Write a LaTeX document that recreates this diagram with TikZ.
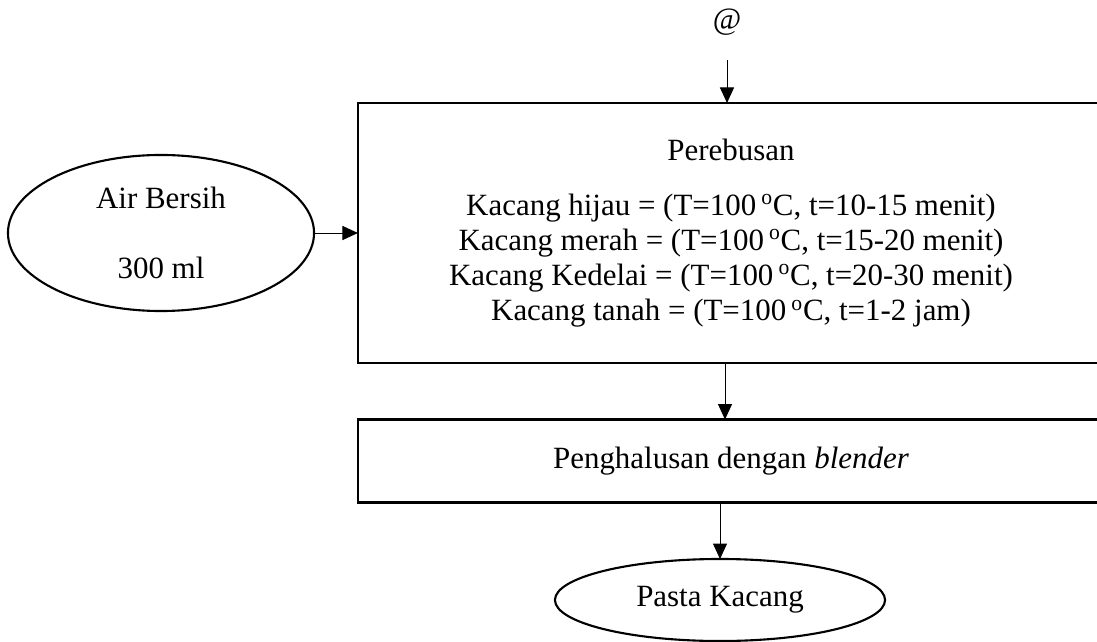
\documentclass[tikz,border=0pt]{standalone}
\usepackage{fontspec}
\setmainfont{Liberation Serif}
\usetikzlibrary{shapes.geometric,arrows.meta}
\begin{document}
\begin{tikzpicture}[
        x=0.025cm, y=-0.025cm,
        font=\fontsize{22}{25}\selectfont,
        process/.style={rectangle, draw=black, line width=1.5pt, minimum width=18.65cm, align=center, inner sep=0pt, outer sep=0pt},
        terminal/.style={ellipse, draw=black, line width=1.5pt, align=center, inner sep=0pt, outer sep=0pt},
        arrow/.style={line width=0.7pt, -{Triangle[length=11pt,width=10pt]}}
    ]
        \useasboundingbox (0,0) rectangle (1097,642);
        \node (at) at (727,22) {@};
        \coordinate (start) at (727,60);
        \node[process, minimum height=6.5cm] (perebusan) at (731,233) {Perebusan\\[0.5cm]
            Kacang hijau = (T=100\,\textsuperscript{o}C, t=10-15 menit)\\
            Kacang merah = (T=100\,\textsuperscript{o}C, t=15-20 menit)\\
            Kacang Kedelai = (T=100\,\textsuperscript{o}C, t=20-30 menit)\\
            Kacang tanah = (T=100\,\textsuperscript{o}C, t=1-2 jam)};
        \node[terminal, minimum width=7.65cm, minimum height=3.9cm] (air) at (161,233) {Air Bersih\\[0.875cm] 300 ml};
        \node[process, minimum height=2.075cm] (halus) at (731,461) {Penghalusan dengan \textit{blender}};
        \node[terminal, minimum width=8.25cm, minimum height=2.05cm] (pasta) at (720,600) {Pasta Kacang};
        \coordinate (split) at (725,363);

        \draw[arrow] (start) -- (start |- perebusan.north);
        \draw[arrow] (air.east) -- (air.east -| perebusan.west);
        \draw[arrow] (split) -- (split |- halus.north);
        \draw[arrow] (halus.south -| pasta.north) -- (pasta.north);
    \end{tikzpicture}
\end{document}
